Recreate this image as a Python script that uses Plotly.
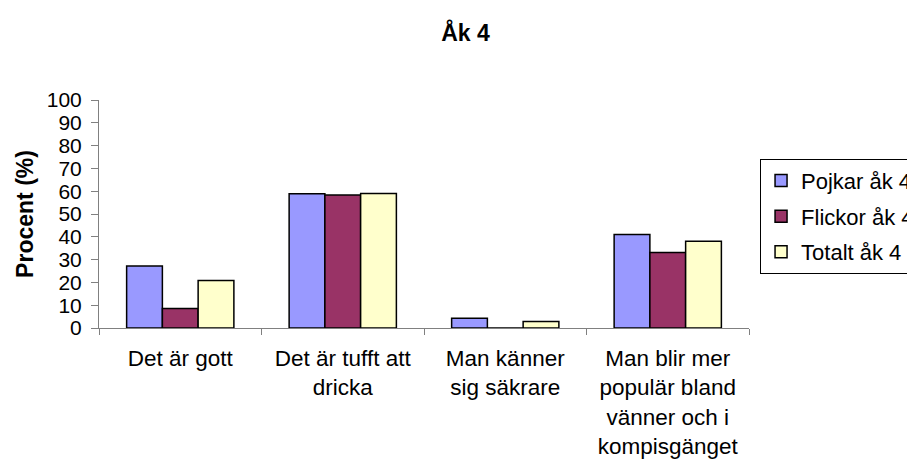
import plotly.graph_objects as go

categories = [
    "Det är gott",
    "Det är tufft att<br>dricka",
    "Man känner<br>sig säkrare",
    "Man blir mer<br>populär bland<br>vänner och i<br>kompisgänget",
]
pojkar = [27.2, 58.9, 4.3, 41.0]
flickor = [8.5, 58.3, 0.0, 33.1]
totalt = [20.8, 59.0, 2.9, 38.1]

series = [
    ("Pojkar åk 4", pojkar, "#9999ff"),
    ("Flickor åk 4", flickor, "#993366"),
    ("Totalt åk 4", totalt, "#ffffcc"),
]

font = "Liberation Sans, Arial, sans-serif"

fig = go.Figure()
for i, (name, vals, color) in enumerate(series):
    fig.add_trace(go.Bar(
        x=categories,
        y=vals,
        name=name,
        legendgroup=str(i),
        marker=dict(color=color, line=dict(color="black", width=1.5)),
    ))

# the page body has an 8px margin, so the margins are shifted to match
fig.update_layout(
    width=915,
    height=460,
    margin=dict(l=91, r=174, t=92, b=140, autoexpand=False),
    paper_bgcolor="white",
    plot_bgcolor="white",
    font=dict(family=font, size=22, color="black"),
    barmode="group",
    bargap=0.34,
    bargroupgap=0,
    title=dict(text="<b>Åk 4</b>", x=0.5, xanchor="center", y=0.946, yanchor="middle",
               font=dict(size=23)),
    legend=dict(
        x=1.017, xanchor="left", y=0.742, yanchor="top",
        bordercolor="black", borderwidth=1,
        tracegroupgap=4,
        traceorder="grouped",
        font=dict(size=22),
        itemwidth=30,
    ),
    showlegend=True,
)

fig.update_xaxes(
    automargin=False,
    showline=True, linecolor="#808080", linewidth=1,
    ticks="outside", tickson="boundaries", ticklen=6, tickcolor="#808080",
    tickfont=dict(size=22.5), ticklabelstandoff=10,
    showgrid=False,
)
fig.update_yaxes(
    automargin=False,
    range=[0, 100], dtick=10,
    showline=True, linecolor="#808080", linewidth=1,
    ticks="outside", ticklen=7, tickcolor="#808080",
    tickfont=dict(size=21), ticklabelstandoff=5,
    showgrid=False, zeroline=False,
    title=dict(text="<b>Procent (%)</b>", standoff=6, font=dict(size=23)),
)

fig.write_html("out.html")
